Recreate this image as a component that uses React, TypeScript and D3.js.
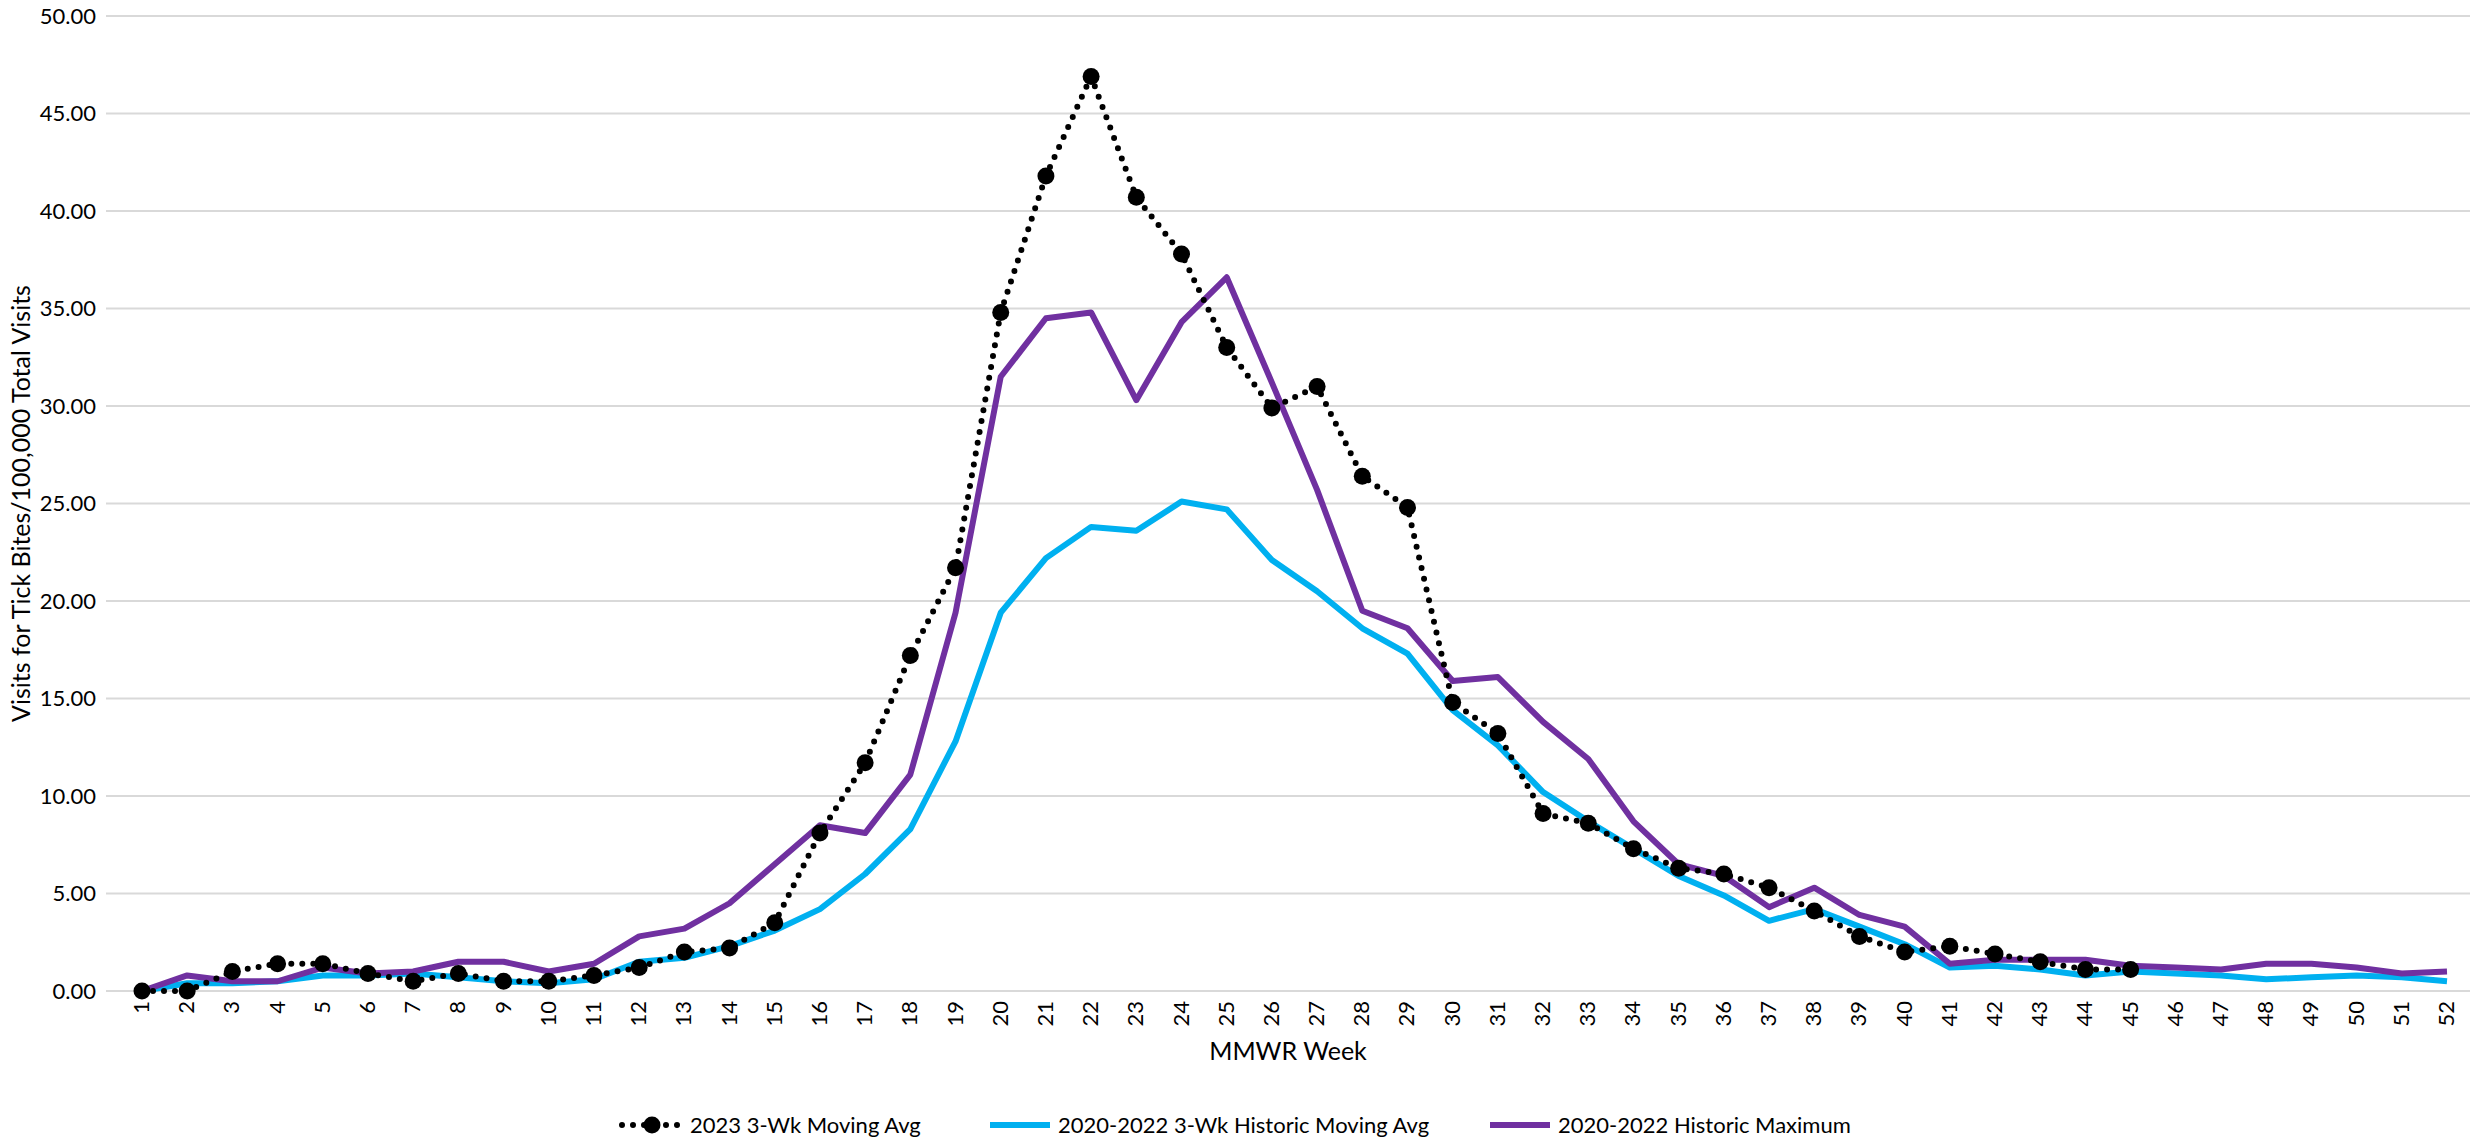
import * as d3 from 'd3';

const weeks = d3.range(1, 53).map(String);
const yTicks = [0, 5, 10, 15, 20, 25, 30, 35, 40, 45, 50];

const y2023 = [0, 0, 1.0, 1.4, 1.4, 0.9, 0.5, 0.9, 0.5, 0.5, 0.8, 1.2, 2.0, 2.2, 3.5, 8.1, 11.7, 17.2, 21.7, 34.8, 41.8, 46.9, 40.7, 37.8, 33.0, 29.9, 31.0, 26.4, 24.8, 14.8, 13.2, 9.1, 8.6, 7.3, 6.3, 6.0, 5.3, 4.1, 2.8, 2.0, 2.3, 1.9, 1.5, 1.1, 1.1];
const histAvg = [0, 0.4, 0.4, 0.5, 0.8, 0.8, 0.9, 0.7, 0.5, 0.4, 0.6, 1.5, 1.7, 2.3, 3.1, 4.2, 6.0, 8.3, 12.8, 19.4, 22.2, 23.8, 23.6, 25.1, 24.7, 22.1, 20.5, 18.6, 17.3, 14.4, 12.6, 10.2, 8.7, 7.3, 5.9, 4.9, 3.6, 4.2, 3.3, 2.4, 1.2, 1.3, 1.1, 0.8, 1.0, 0.9, 0.8, 0.6, 0.7, 0.8, 0.7, 0.5];
const histMax = [0, 0.8, 0.5, 0.5, 1.2, 0.9, 1.0, 1.5, 1.5, 1.0, 1.4, 2.8, 3.2, 4.5, 6.5, 8.5, 8.1, 11.1, 19.4, 31.5, 34.5, 34.8, 30.3, 34.3, 36.6, 31.2, 25.7, 19.5, 18.6, 15.9, 16.1, 13.8, 11.9, 8.7, 6.5, 5.9, 4.3, 5.3, 3.9, 3.3, 1.4, 1.6, 1.6, 1.6, 1.3, 1.2, 1.1, 1.4, 1.4, 1.2, 0.9, 1.0];

const W = 2483, H = 1144;
const m = { left: 106, right: 13, top: 16, bottom: 153 };
const font = 'Lato, "Liberation Sans", sans-serif';

export default function App() {
  const x = d3.scalePoint().domain(weeks).range([142, 2447]);
  const y = d3.scaleLinear().domain([0, 50]).range([H - m.bottom, m.top]);
  const cx = (i: number) => x(weeks[i]) ?? 0;
  const line = d3.line<number>().x((_, i) => cx(i)).y(d => y(d));

  const legend = [
    { label: '2023 3-Wk Moving Avg', color: '#000', dotted: true, x: 622 },
    { label: '2020-2022 3-Wk Historic Moving Avg', color: '#00B0F0', dotted: false, x: 990 },
    { label: '2020-2022 Historic Maximum', color: '#7030A0', dotted: false, x: 1490 },
  ];

  return (
    <svg width={W} height={H} style={{ position: 'absolute', left: 0, top: 0, background: '#fff' }} fontFamily={font}>
      {yTicks.map(t => (
        <g key={t}>
          <line x1={m.left} x2={W - m.right} y1={y(t)} y2={y(t)} stroke="#d9d9d9" strokeWidth={2} />
          <text x={m.left - 10} y={y(t)} dy="0.35em" textAnchor="end" fontSize={22} fill="#000">{t.toFixed(2)}</text>
        </g>
      ))}
      {weeks.map((w, i) => (
        <text key={w} transform={`translate(${cx(i) + 7},${y(0) + 10}) rotate(-90)`} textAnchor="end" fontSize={22}>{w}</text>
      ))}
      <text x={(m.left + W - m.right) / 2} y={1060} textAnchor="middle" fontSize={25}>MMWR Week</text>
      <text transform={`translate(30,${(m.top + y(0)) / 2}) rotate(-90)`} textAnchor="middle" fontSize={25}>Visits for Tick Bites/100,000 Total Visits</text>

      <path d={line(histAvg) ?? ''} fill="none" stroke="#00B0F0" strokeWidth={6} strokeLinejoin="round" />
      <path d={line(histMax) ?? ''} fill="none" stroke="#7030A0" strokeWidth={6} strokeLinejoin="round" />
      <path d={line(y2023) ?? ''} fill="none" stroke="#000" strokeWidth={6} strokeDasharray="0 11" strokeLinecap="round" />
      {y2023.map((v, i) => (
        <circle key={i} cx={cx(i)} cy={y(v)} r={8.5} fill="#000" />
      ))}

      {legend.map(l => (
        <g key={l.label} transform={`translate(${l.x},1125)`}>
          {l.dotted ? (
            <>
              <line x1={0} x2={60} y1={0} y2={0} stroke="#000" strokeWidth={6} strokeDasharray="0 11" strokeLinecap="round" />
              <circle cx={30} cy={0} r={8.5} fill="#000" />
            </>
          ) : (
            <line x1={0} x2={60} y1={0} y2={0} stroke={l.color} strokeWidth={6} />
          )}
          <text x={68} y={0} dy="0.35em" fontSize={22}>{l.label}</text>
        </g>
      ))}
    </svg>
  );
}
